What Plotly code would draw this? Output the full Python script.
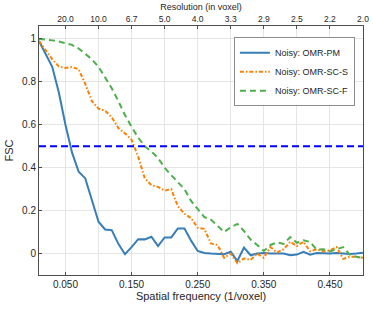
import plotly.graph_objects as go

freq = [round(0.01 * k, 2) for k in range(1, 51)]

omr_pm = [0.99, 0.93, 0.87, 0.75, 0.60, 0.47, 0.381, 0.35, 0.25, 0.148,
          0.112, 0.109, 0.045, -0.003, 0.03, 0.067, 0.066, 0.078, 0.035, 0.075,
          0.075, 0.117, 0.117, 0.06, 0.012, 0.003, 0.0, 0.0, -0.003, 0.008,
          -0.035, 0.028, -0.008, 0.0, 0.002, 0.0, 0.0, 0.0, -0.008, -0.005,
          0.008, -0.005, 0.002, 0.0, 0.0, 0.002, 0.0, -0.002, 0.0, 0.004]

omr_sc_s = [0.99, 0.95, 0.905, 0.872, 0.864, 0.869, 0.858, 0.79, 0.71, 0.675,
            0.665, 0.635, 0.585, 0.56, 0.53, 0.45, 0.35, 0.318, 0.31, 0.293,
            0.30, 0.22, 0.185, 0.165, 0.12, 0.115, 0.047, 0.04, -0.02, 0.0,
            -0.045, -0.023, -0.03, 0.0, -0.02, 0.03, 0.005, 0.02, 0.055, 0.035,
            0.055, 0.01, 0.02, 0.01, 0.015, 0.03, -0.025, -0.015, -0.015, -0.02]

omr_sc_f = [1.0, 0.998, 0.993, 0.988, 0.98, 0.972, 0.955, 0.93, 0.905, 0.87,
            0.82, 0.77, 0.71, 0.645, 0.59, 0.54, 0.50, 0.475, 0.445, 0.40,
            0.365, 0.33, 0.30, 0.245, 0.205, 0.17, 0.158, 0.13, 0.10, 0.123,
            0.138, 0.105, 0.065, 0.04, 0.012, 0.04, 0.052, 0.045, 0.077, 0.05,
            0.062, 0.054, 0.018, 0.02, 0.01, 0.02, 0.03, -0.005, -0.015, -0.02]

threshold = 0.5

bottom_tickvals = [0.05, 0.15, 0.25, 0.35, 0.45]
bottom_ticktext = ["0.050", "0.150", "0.250", "0.350", "0.450"]
top_tickvals = [0.05, 0.1, 0.15, 0.2, 0.25, 0.3, 0.35, 0.4, 0.45, 0.5]
top_ticktext = ["20.0", "10.0", "6.7", "5.0", "4.0", "3.3", "2.9", "2.5", "2.2", "2.0"]
y_tickvals = [0, 0.2, 0.4, 0.6, 0.8, 1]
y_ticktext = ["0", "0.2", "0.4", "0.6", "0.8", "1"]

FONT = "Liberation Sans, Arial, sans-serif"
TXT = "#262626"
GRID = "#e5e5e5"
AX = "#4d4d4d"

fig = go.Figure()
fig.add_trace(go.Scatter(x=freq, y=omr_pm, mode="lines", name="Noisy: OMR-PM",
                         line=dict(color="#377eb8", width=2)))
fig.add_trace(go.Scatter(x=freq, y=omr_sc_s, mode="lines", name="Noisy: OMR-SC-S",
                         line=dict(color="#ff7f00", width=2, dash="4px,2px,1.5px,2px")))
fig.add_trace(go.Scatter(x=freq, y=omr_sc_f, mode="lines", name="Noisy: OMR-SC-F",
                         line=dict(color="#4daf4a", width=2, dash="6px,4px")))
# invisible trace to anchor top axis
fig.add_trace(go.Scatter(x=[freq[0], freq[-1]], y=[threshold, threshold], xaxis="x2",
                         mode="lines", line=dict(width=0), showlegend=False, hoverinfo="skip"))

fig.add_shape(type="line", xref="paper", yref="y", x0=0, x1=1, y0=threshold, y1=threshold,
              line=dict(color="#0000ff", width=2, dash="7px,4px"))

xr = [0.01, 0.5]
fig.update_layout(
    width=373, height=309,
    margin=dict(l=39, r=10, t=26, b=34, autoexpand=False),
    paper_bgcolor="white", plot_bgcolor="white",
    font=dict(family=FONT, size=10, color=TXT),
    xaxis=dict(range=xr, tickvals=bottom_tickvals, ticktext=bottom_ticktext, automargin=False,
               showgrid=False, zeroline=False, showline=True, linecolor=AX, linewidth=1,
               mirror=False, ticks="inside", ticklen=3, tickcolor=AX,
               title=dict(text="Spatial frequency (1/voxel)", font=dict(size=11), standoff=3),
               tickfont=dict(size=10)),
    xaxis2=dict(range=xr, overlaying="x", side="top", tickvals=top_tickvals, ticktext=top_ticktext,
                automargin=False, ticklabeloverflow="allow",
                showgrid=True, gridcolor=GRID, zeroline=False, showline=True, linecolor=AX,
                linewidth=1, ticks="inside", ticklen=3, tickcolor=AX,
                title=dict(text="Resolution (in voxel)", font=dict(size=9), standoff=1),
                tickfont=dict(size=8.5)),
    yaxis=dict(range=[-0.1, 1.06], tickvals=y_tickvals, ticktext=y_ticktext, automargin=False,
               showgrid=True, gridcolor=GRID, zeroline=False, showline=True, linecolor=AX,
               linewidth=1, mirror=True, ticks="inside", ticklen=3, tickcolor=AX,
               title=dict(text="FSC", font=dict(size=11), standoff=6),
               tickfont=dict(size=10)),
    legend=dict(x=0.975, y=0.955, xanchor="right", yanchor="top",
                bgcolor="white", bordercolor="#8c8c8c", borderwidth=1,
                font=dict(size=9, color=TXT), tracegroupgap=0, itemwidth=30),
    showlegend=True,
)

fig.write_html("out.html", config={"displayModeBar": False},
               post_script="document.body.style.margin='0';document.body.style.overflow='hidden';")
